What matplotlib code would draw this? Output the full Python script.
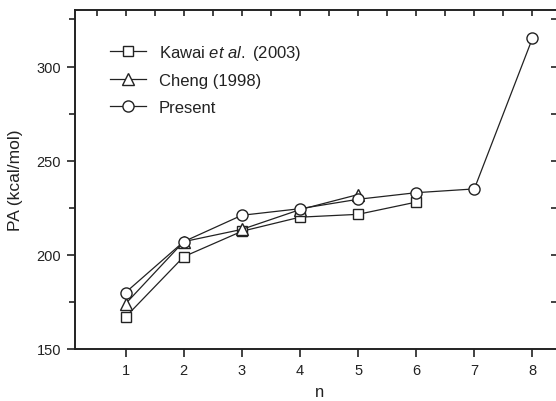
import matplotlib
matplotlib.use("Agg")
import matplotlib.pyplot as plt
from matplotlib.ticker import MultipleLocator

plt.rcParams["font.family"] = ["Liberation Sans", "DejaVu Sans"]
plt.rcParams["mathtext.fontset"] = "custom"
plt.rcParams["mathtext.it"] = "Liberation Sans:italic"
plt.rcParams["mathtext.rm"] = "Liberation Sans"

# proton affinities
n_kawai = [1, 2, 3, 4, 5, 6]
pa_kawai = [167, 199, 212.5, 220, 221.5, 228]

n_cheng = [1, 2, 3, 4, 5]
pa_cheng = [174, 207, 213.5, 224, 232]

n_present = [1, 2, 3, 4, 5, 6, 7, 8]
pa_present = [180, 207, 221, 224.5, 229.5, 233, 235, 315]

x_ticks = [1, 2, 3, 4, 5, 6, 7, 8]
y_ticks = [150, 200, 250, 300]

ink = "#222222"

fig = plt.figure(figsize=(5.56, 4.02), dpi=100)
# right spine sits just outside the cropped image, as in the reference
ax = fig.add_axes([75 / 556, 52 / 402, 490 / 556, 339 / 402])

style = dict(color=ink, lw=0.9, markerfacecolor="white", markeredgecolor=ink,
             markeredgewidth=1.0)
ax.plot(n_kawai, pa_kawai, marker="s", ms=7, label="Kawai $\\it{et\\ al.}$ (2003)", **style)
ax.plot(n_cheng, pa_cheng, marker="^", ms=8, label="Cheng (1998)", **style)
ax.plot(n_present, pa_present, marker="o", ms=8, label="Present", **style)

ax.set_xlim(0.13, 8.56)
ax.set_ylim(150, 330)
ax.set_xticks(x_ticks)
ax.set_yticks(y_ticks)
ax.yaxis.set_minor_locator(MultipleLocator(25))

ax.tick_params(axis="both", which="major", direction="out", length=6, width=1.2,
               color=ink, labelsize=10.5, labelcolor=ink, pad=4)
ax.tick_params(axis="y", which="minor", direction="out", length=4, width=1.2, color=ink)

# mirrored inward ticks on top; right ticks peek in at the cropped edge
top = ax.secondary_xaxis("top")
top.set_xticks([0.5 + 0.5 * i for i in range(16)])
top.tick_params(direction="in", length=4, width=1.2, color=ink, labeltop=False)
top.spines["top"].set_visible(False)
right = ax.secondary_yaxis("right")
right.set_yticks([175, 200, 225, 250, 275, 300, 325])
right.tick_params(direction="in", length=10, width=1.2, color=ink, labelright=False)
right.spines["right"].set_visible(False)

for sp in ax.spines.values():
    sp.set_color(ink)
    sp.set_linewidth(1.4)

ax.set_xlabel("n", fontsize=12, color=ink, labelpad=5)
ax.set_ylabel("PA (kcal/mol)", fontsize=12.5, color=ink, labelpad=10)

ax.legend(loc="upper left", bbox_to_anchor=(0.04, 0.948), frameon=False,
          fontsize=12, handlelength=2.2, handletextpad=0.75, labelspacing=0.7,
          numpoints=1, labelcolor=ink)

fig.savefig("out.png", dpi=100)
